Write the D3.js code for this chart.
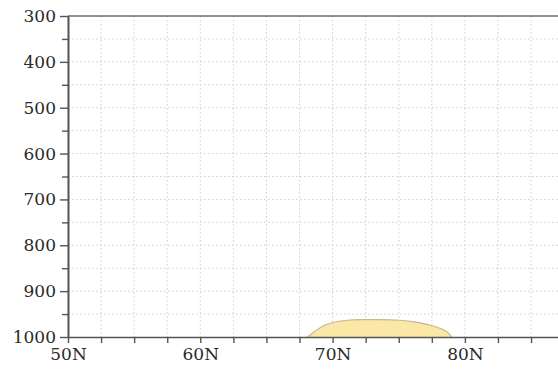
<!DOCTYPE html>
<html>
<head>
<meta charset="utf-8">
<script src="https://cdn.jsdelivr.net/npm/d3@7"></script>
<style>
  html, body { margin: 0; padding: 0; background: #fff; overflow: hidden; }
  svg { display: block; overflow: hidden; }
  text { font-family: "DejaVu Serif", "Liberation Serif", serif; fill: #2a2a2a; }
</style>
</head>
<body>
<svg id="chart" width="600" height="370"></svg>
<script>
// Latitude / pressure cross-section: one shaded region near the surface.
const latTicks = [50, 60, 70, 80];
const latMinorStep = 2.5;
const pressureTicks = [300, 400, 500, 600, 700, 800, 900, 1000];
const pressureMinorStep = 50;

// Outline of the shaded region (latitude °N, pressure hPa)
const regionLat = [68.1, 68.65, 69.27, 69.95, 70.9, 72.2, 73.6, 75.1, 76.2, 77.2, 78.1, 78.7, 79.0];
const regionP   = [1000, 988, 976, 969, 964, 962, 962, 963.5, 967, 973, 981, 990, 1000];

const svg = d3.select("#chart");
const plotLeft = 68, plotTop = 16, plotBottom = 337;
const pxPerDegree = 13.23;

const x = d3.scaleLinear().domain([50, 90])
  .range([plotLeft, plotLeft + 40 * pxPerDegree]);
const y = d3.scaleLinear().domain([300, 1000]).range([plotTop, plotBottom]);

const latGrid = d3.range(50 + latMinorStep, 90, latMinorStep);
const pGrid = d3.range(300 + pressureMinorStep, 1000, pressureMinorStep);

// dotted grid
const grid = svg.append("g").attr("stroke", "#cfcfcf").attr("stroke-width", 1)
  .attr("stroke-dasharray", "1.5,2.5").attr("fill", "none");
grid.selectAll("line.v").data(latGrid).join("line").attr("class", "v")
  .attr("x1", d => x(d)).attr("x2", d => x(d)).attr("y1", plotTop).attr("y2", plotBottom);
grid.selectAll("line.h").data(pGrid).join("line").attr("class", "h")
  .attr("y1", d => y(d)).attr("y2", d => y(d)).attr("x1", plotLeft).attr("x2", x(90));

// shaded region
const pts = regionLat.map((d, i) => [d, regionP[i]]);
const outline = d3.line().x(d => x(d[0])).y(d => y(d[1])).curve(d3.curveMonotoneX);
svg.append("path").datum(pts)
  .attr("d", outline)
  .attr("fill", "#fbe8a6")
  .attr("stroke", "#c4b896")
  .attr("stroke-width", 1.2);

// top frame line
svg.append("line").attr("x1", plotLeft).attr("x2", x(90)).attr("y1", plotTop).attr("y2", plotTop)
  .attr("stroke", "#6b6b6b").attr("stroke-width", 1.6);

// left axis
const yAxis = svg.append("g").attr("transform", `translate(${plotLeft},0)`);
yAxis.call(d3.axisLeft(y).tickValues(pressureTicks).tickSize(8).tickSizeOuter(0).tickPadding(4).tickFormat(d3.format("d")));
yAxis.append("g").call(d3.axisLeft(y).tickValues(pGrid.filter(v => v % 100 !== 0)).tickSize(6).tickSizeOuter(0).tickFormat(""));
yAxis.selectAll(".domain").attr("stroke", "#555").attr("stroke-width", 1.6);
yAxis.selectAll(".tick line").attr("stroke", "#555").attr("stroke-width", 1.4);
yAxis.selectAll("text").attr("font-size", 17).attr("fill", "#2a2a2a")
  .attr("font-family", "DejaVu Serif, serif");

// bottom axis
const xAxis = svg.append("g").attr("transform", `translate(0,${plotBottom})`);
xAxis.call(d3.axisBottom(x).tickValues(d3.range(50, 90, latMinorStep)).tickSize(6).tickSizeOuter(0).tickPadding(5)
  .tickFormat(d => latTicks.includes(d) ? d + "N" : ""));
xAxis.selectAll(".domain").attr("stroke", "#555").attr("stroke-width", 1.6);
xAxis.selectAll(".tick line").attr("stroke", "#555").attr("stroke-width", 1.4);
xAxis.selectAll("text").attr("font-size", 17).attr("fill", "#2a2a2a")
  .attr("font-family", "DejaVu Serif, serif");
</script>
</body>
</html>
